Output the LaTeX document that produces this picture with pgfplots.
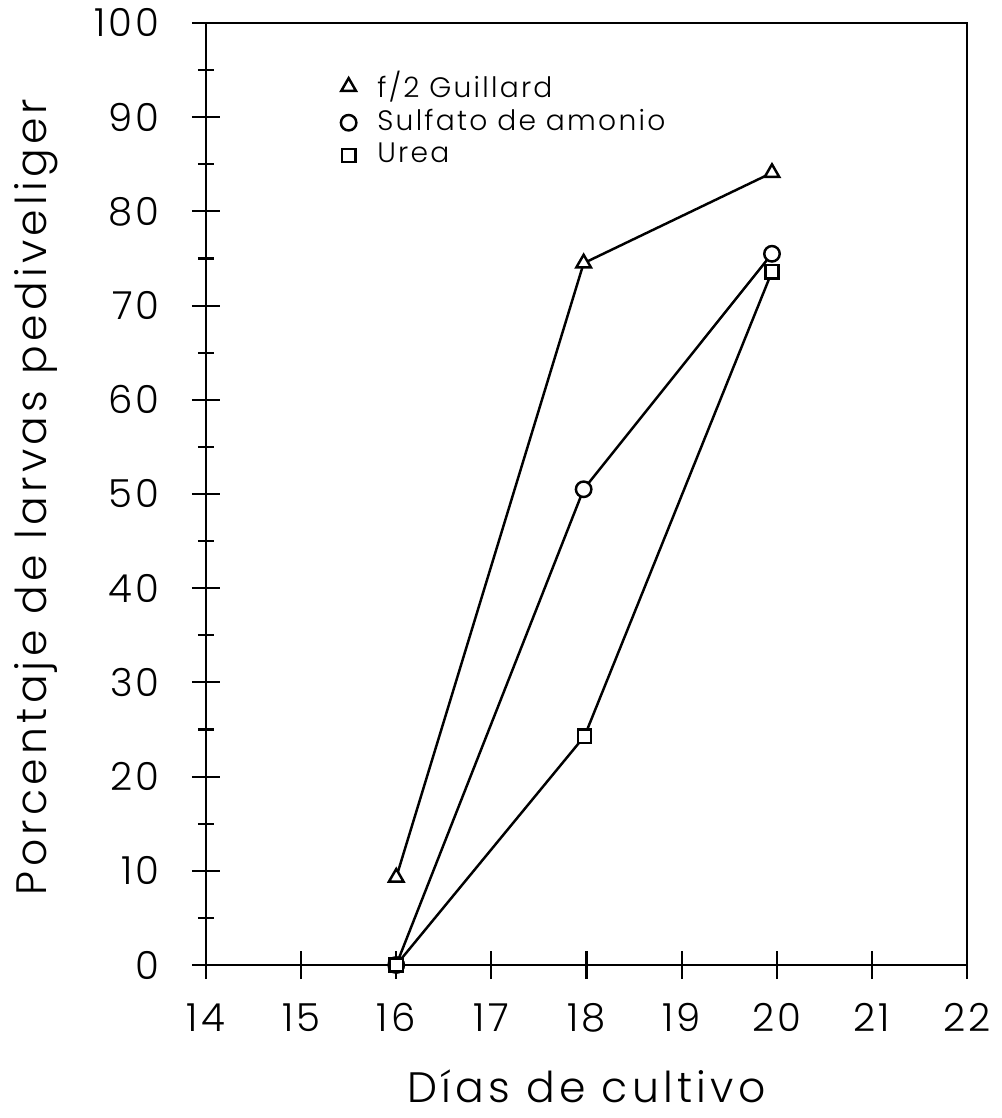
\documentclass[border=0pt]{standalone}
\usepackage{pgfplots}
\pgfplotsset{compat=1.18}
\usepackage{fontspec}
\setmainfont{Poppins Light}[LetterSpace=8]
\newfontfamily\labfont{Poppins Light}[LetterSpace=10]
\begin{document}
\begin{tikzpicture}
\begin{axis}[
  scale only axis, width=7.61cm, height=9.42cm,
  xmin=14, xmax=22, ymin=0, ymax=100,
  xtick={14,...,22}, ytick={0,10,...,100}, minor ytick={5,15,...,95},
  xtick pos=bottom, ytick pos=left,
  tick align=center,
  major tick length=0.28cm, minor tick length=0.16cm,
  axis line style={line width=0.75pt},
  every tick/.style={black, line width=0.6pt},
  /pgf/number format/assume math mode=true,
  tick label style={font=\fontsize{11}{13}\selectfont},
  yticklabel style={xshift=-0.2cm},
  xticklabel style={yshift=-0.12cm},
  xlabel={Días de cultivo}, ylabel={Porcentaje de larvas pediveliger},
  label style={font=\labfont\fontsize{12.1}{15}\selectfont},
  xlabel style={at={(axis description cs:0.5,-0.1463)}, anchor=base},
  ylabel style={at={(axis description cs:-0.2102,0.497)}, anchor=base},
  legend style={draw=none, fill=none, at={(axis cs:15.3,96.5)}, anchor=north west,
    font=\fontsize{8}{10}\selectfont, row sep=-2pt,
    /tikz/every odd column/.append style={column sep=0.14cm}},
  legend cell align=left,
]
\coordinate (sw) at (rel axis cs:0,0);
\addlegendimage{only marks, mark=triangle, mark size=2.4pt, black, mark options={fill=white, line width=0.7pt}}
\addlegendentry{f/2 Guillard}
\addlegendimage{only marks, mark=o, mark size=2.2pt, black, mark options={fill=white, line width=0.7pt}}
\addlegendentry{Sulfato de amonio}
\addlegendimage{only marks, mark=square, mark size=1.9pt, black, mark options={fill=white, line width=0.7pt}}
\addlegendentry{Urea}
\addplot[forget plot, black, line width=0.7pt, mark=triangle*, mark size=2.4pt, mark options={fill=white, line width=0.7pt}]
  coordinates {(16,9.3) (17.97,74.5) (19.95,84.1)};
\addplot[forget plot, black, line width=0.7pt, mark=*, mark size=2.2pt, mark options={fill=white, line width=0.7pt}]
  coordinates {(16,0) (17.97,50.5) (19.95,75.5)};
\addplot[forget plot, black, line width=0.7pt, mark=square*, mark size=1.9pt, mark options={fill=white, line width=0.7pt}]
  coordinates {(16,0) (17.98,24.3) (19.95,73.6)};
\end{axis}
\pgfresetboundingbox
\path (sw) ++(-2.06cm,-1.53cm) rectangle ++(10.01cm,11.18cm);
\end{tikzpicture}
\end{document}
